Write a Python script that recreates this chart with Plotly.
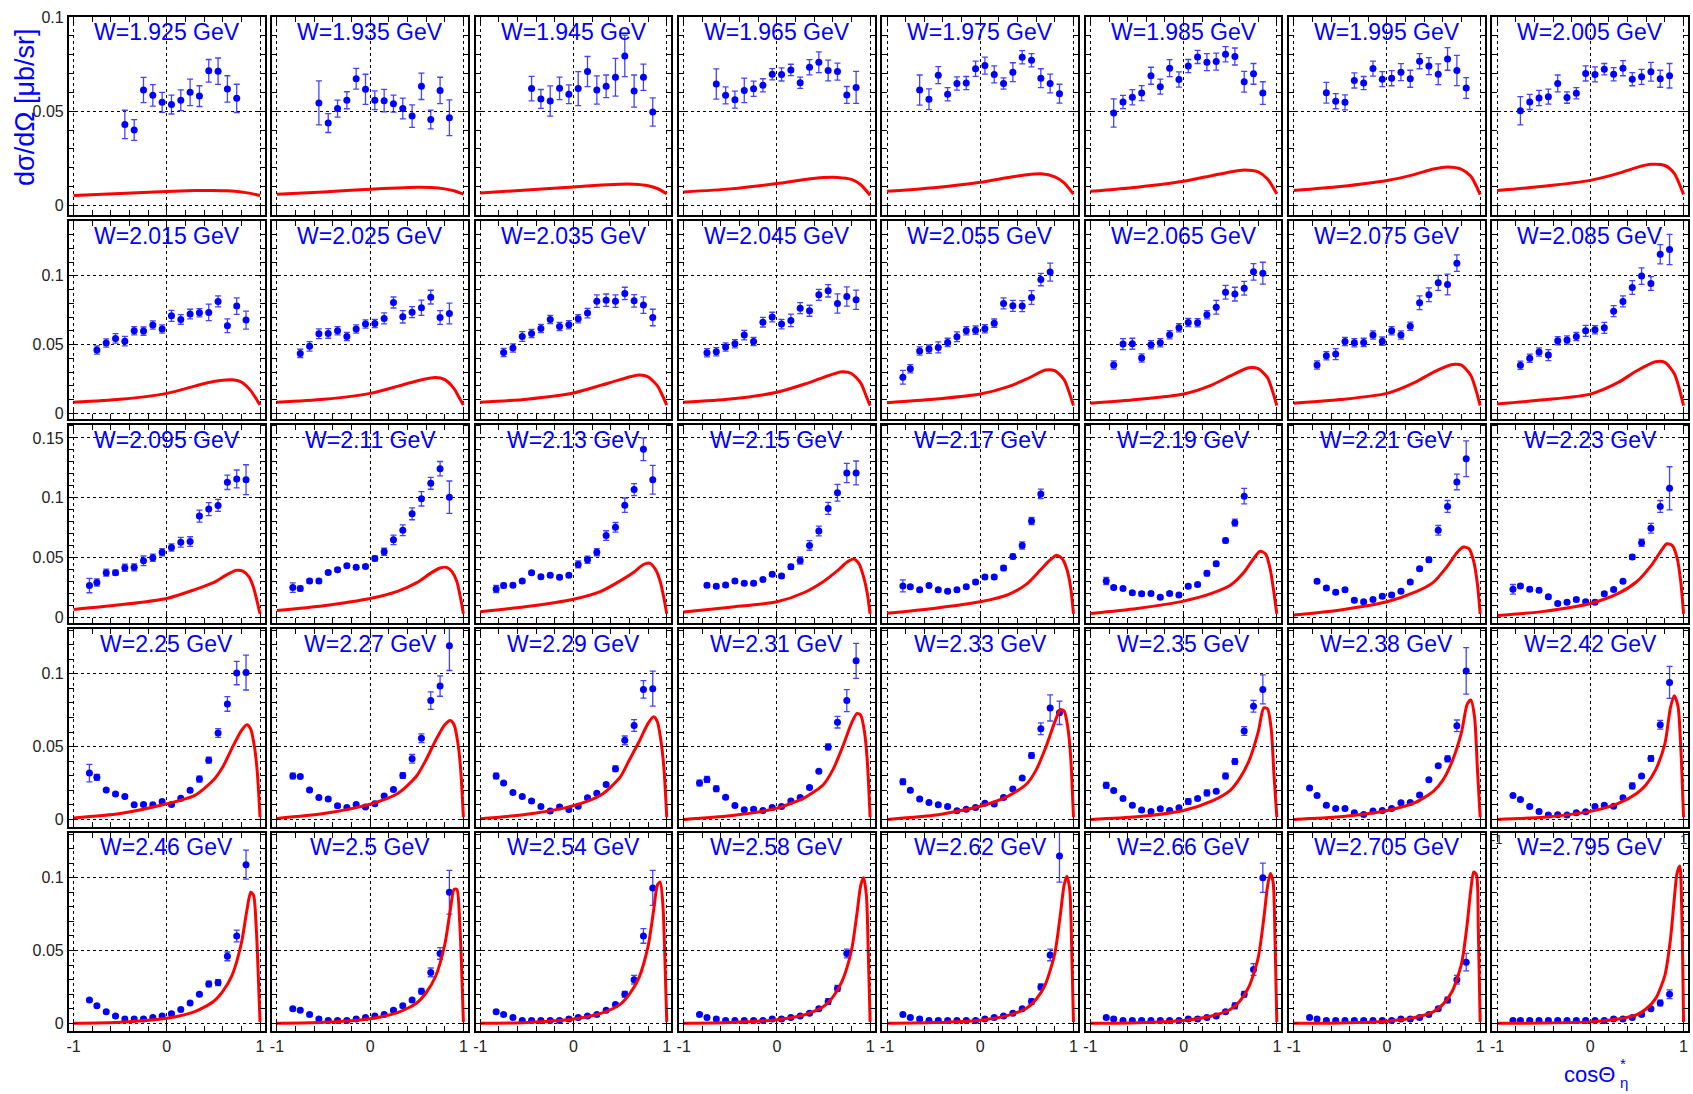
import plotly.graph_objects as go

FIG_W, FIG_H = 1693, 1094
N_COLS = 8

W_LABELS = ["1.925", "1.935", "1.945", "1.965", "1.975", "1.985", "1.995", "2.005",
            "2.015", "2.025", "2.035", "2.045", "2.055", "2.065", "2.075", "2.085",
            "2.095", "2.11", "2.13", "2.15", "2.17", "2.19", "2.21", "2.23",
            "2.25", "2.27", "2.29", "2.31", "2.33", "2.35", "2.38", "2.42",
            "2.46", "2.5", "2.54", "2.58", "2.62", "2.66", "2.705", "2.795"]

# cos(theta*) bin centres used by the measurements
COS_A = [-0.45, -0.35, -0.25, -0.15, -0.05, 0.05, 0.15, 0.25, 0.35, 0.45, 0.55, 0.65, 0.75]
COS_B = [-0.55, -0.45, -0.35, -0.25, -0.15, -0.05, 0.05, 0.15, 0.25, 0.35, 0.45, 0.55, 0.65, 0.75, 0.85]
COS_C = [-0.45, -0.35, -0.25, -0.15, -0.05, 0.05, 0.15, 0.25, 0.35, 0.45, 0.55, 0.65, 0.75, 0.85]
COS_D = [-0.65, -0.55, -0.45, -0.35, -0.25, -0.15, -0.05, 0.05, 0.15, 0.25, 0.35, 0.45, 0.55, 0.65, 0.75, 0.85]
COS_E = [-0.75, -0.65, -0.55, -0.45, -0.35, -0.25, -0.15, -0.05, 0.05, 0.15, 0.25, 0.35, 0.45, 0.55, 0.65, 0.75, 0.85]
COS_F = [-0.83, -0.75, -0.65, -0.55, -0.45, -0.35, -0.25, -0.15, -0.05, 0.05, 0.15, 0.25, 0.35, 0.45, 0.55, 0.65, 0.75]
COS_G = [-0.75, -0.65, -0.55, -0.45, -0.35, -0.25, -0.15, -0.05, 0.05, 0.15, 0.25, 0.35, 0.45, 0.55, 0.65, 0.75]
COS_H = [-0.83, -0.75, -0.65, -0.55, -0.45, -0.35, -0.25, -0.15, -0.05, 0.05, 0.15, 0.25, 0.35, 0.45, 0.55, 0.65, 0.75, 0.85]
COS_I = [-0.83, -0.75, -0.65, -0.55, -0.45, -0.35, -0.25, -0.15, -0.05, 0.05, 0.15, 0.25, 0.35, 0.45, 0.55, 0.65]

COS_BINS = [COS_A, COS_B, COS_C, COS_D, COS_D, COS_E, COS_D, COS_E,
            COS_E, COS_E, COS_E, COS_E, COS_F, COS_E, COS_G, COS_E,
            COS_H, COS_H, COS_H, COS_E, COS_I, COS_I, COS_E, COS_H,
            COS_H, COS_H, COS_H, COS_H, COS_H, COS_H, COS_H, COS_H,
            COS_H, COS_H, COS_H, COS_F, COS_H, COS_H, COS_H, COS_H]

# measured dsigma/dOmega [mub/sr]
DSDO = [
    [0.043, 0.040, 0.0612, 0.0584, 0.0547, 0.0535, 0.0558, 0.060, 0.058, 0.0714, 0.0712, 0.0618, 0.0568],
    [0.0544, 0.0437, 0.0514, 0.0558, 0.0672, 0.0616, 0.0558, 0.0556, 0.054, 0.0514, 0.0474, 0.0632, 0.0456, 0.061, 0.0465],
    [0.062, 0.0565, 0.0554, 0.0621, 0.059, 0.062, 0.071, 0.0612, 0.0632, 0.068, 0.0793, 0.0607, 0.068, 0.0496],
    [0.0644, 0.0584, 0.0561, 0.061, 0.0619, 0.0637, 0.0696, 0.0695, 0.0719, 0.0651, 0.0733, 0.076, 0.0716, 0.071, 0.0586, 0.0626],
    [0.0612, 0.0563, 0.0691, 0.059, 0.0647, 0.0649, 0.0725, 0.0742, 0.0695, 0.0647, 0.0707, 0.0786, 0.077, 0.0675, 0.0647, 0.0593],
    [0.049, 0.0549, 0.0574, 0.0596, 0.0688, 0.063, 0.0728, 0.0668, 0.0739, 0.0788, 0.076, 0.0763, 0.0802, 0.079, 0.0656, 0.0698, 0.0596],
    [0.0598, 0.0553, 0.0547, 0.0663, 0.0649, 0.0726, 0.067, 0.0675, 0.0707, 0.0672, 0.0765, 0.0739, 0.0696, 0.0777, 0.0716, 0.0623],
    [0.0502, 0.0549, 0.057, 0.0577, 0.0647, 0.0572, 0.0595, 0.07, 0.0695, 0.0723, 0.0696, 0.0728, 0.067, 0.0682, 0.0709, 0.0672, 0.0688],
    [0.046, 0.0511, 0.0545, 0.0525, 0.06, 0.0598, 0.0642, 0.0613, 0.0709, 0.0683, 0.0722, 0.0731, 0.0734, 0.0814, 0.0637, 0.078, 0.0678],
    [0.0436, 0.0487, 0.0579, 0.0581, 0.06, 0.0559, 0.0613, 0.0649, 0.0654, 0.069, 0.0806, 0.0702, 0.0736, 0.0768, 0.0845, 0.0697, 0.0726],
    [0.0443, 0.0475, 0.0559, 0.0581, 0.0617, 0.0683, 0.0632, 0.0644, 0.0688, 0.0729, 0.0816, 0.0823, 0.0816, 0.0872, 0.0818, 0.0787, 0.0697],
    [0.0441, 0.0448, 0.0482, 0.0506, 0.0569, 0.0523, 0.0663, 0.070, 0.0649, 0.0676, 0.0765, 0.0746, 0.0862, 0.0891, 0.0799, 0.085, 0.0826],
    [0.0262, 0.0324, 0.0453, 0.0467, 0.0479, 0.0516, 0.0557, 0.060, 0.0605, 0.0615, 0.0656, 0.0799, 0.0782, 0.078, 0.0843, 0.0973, 0.1027],
    [0.0351, 0.0504, 0.0506, 0.0402, 0.0499, 0.0513, 0.0571, 0.0622, 0.0661, 0.0659, 0.0717, 0.0772, 0.0881, 0.0867, 0.091, 0.1029, 0.1019],
    [0.0351, 0.0419, 0.0431, 0.0523, 0.0513, 0.0516, 0.0569, 0.0525, 0.060, 0.0569, 0.0634, 0.0804, 0.0862, 0.0949, 0.0937, 0.1092],
    [0.0349, 0.040, 0.0446, 0.0424, 0.0528, 0.0533, 0.0559, 0.060, 0.0608, 0.0622, 0.0743, 0.0814, 0.0915, 0.0998, 0.0944, 0.1157, 0.1191],
    [0.0266, 0.0291, 0.0374, 0.0374, 0.0415, 0.0418, 0.0473, 0.0498, 0.0545, 0.0584, 0.0628, 0.0634, 0.0847, 0.0905, 0.0936, 0.1129, 0.1157, 0.1151],
    [0.0249, 0.0241, 0.0304, 0.0304, 0.0376, 0.0399, 0.0432, 0.0418, 0.0426, 0.0493, 0.0548, 0.0648, 0.0728, 0.0866, 0.0991, 0.1121, 0.1243, 0.1005],
    [0.0238, 0.0266, 0.0268, 0.0304, 0.0374, 0.034, 0.0352, 0.0335, 0.0352, 0.0443, 0.0482, 0.0545, 0.0684, 0.0753, 0.0938, 0.1068, 0.1406, 0.1151],
    [0.0268, 0.026, 0.0271, 0.0304, 0.0285, 0.0285, 0.0316, 0.036, 0.0346, 0.0423, 0.0476, 0.0601, 0.0722, 0.0911, 0.1041, 0.1207, 0.1207],
    [0.0263, 0.0255, 0.023, 0.0266, 0.023, 0.0219, 0.023, 0.0257, 0.0296, 0.0338, 0.0338, 0.0412, 0.0509, 0.0601, 0.0805, 0.1032],
    [0.0304, 0.0249, 0.0241, 0.0205, 0.0197, 0.0199, 0.0169, 0.0199, 0.0188, 0.026, 0.0274, 0.0368, 0.0448, 0.0642, 0.0792, 0.1013],
    [0.0302, 0.0246, 0.021, 0.023, 0.0144, 0.013, 0.0149, 0.0177, 0.0188, 0.0219, 0.0296, 0.0407, 0.0482, 0.0728, 0.0927, 0.1132, 0.1326],
    [0.0235, 0.0263, 0.0235, 0.0227, 0.0172, 0.0116, 0.0127, 0.0149, 0.013, 0.0127, 0.0197, 0.0232, 0.0302, 0.0504, 0.0623, 0.0745, 0.0927, 0.1079],
    [0.0318, 0.0289, 0.0202, 0.0175, 0.0157, 0.010, 0.0102, 0.010, 0.0123, 0.0102, 0.0145, 0.020, 0.0277, 0.0407, 0.0593, 0.0793, 0.1005, 0.1009],
    [0.0298, 0.0295, 0.0202, 0.015, 0.0141, 0.0093, 0.0082, 0.0102, 0.0086, 0.0107, 0.0161, 0.0205, 0.0302, 0.0416, 0.0557, 0.0816, 0.0916, 0.1193],
    [0.0298, 0.025, 0.0184, 0.0157, 0.0127, 0.0089, 0.0057, 0.0086, 0.0068, 0.0091, 0.0148, 0.018, 0.0239, 0.0348, 0.0543, 0.0645, 0.0893, 0.0898],
    [0.025, 0.0275, 0.0211, 0.0152, 0.0095, 0.0066, 0.007, 0.0061, 0.0082, 0.0089, 0.0127, 0.015, 0.022, 0.033, 0.0498, 0.0668, 0.0816, 0.1089],
    [0.0259, 0.020, 0.0141, 0.0116, 0.010, 0.0089, 0.0059, 0.007, 0.0082, 0.0111, 0.0105, 0.015, 0.0209, 0.0284, 0.0439, 0.0623, 0.0766, 0.0732],
    [0.0234, 0.0198, 0.0143, 0.0098, 0.0064, 0.0055, 0.0073, 0.0061, 0.008, 0.0123, 0.0143, 0.0182, 0.0193, 0.0298, 0.0398, 0.0607, 0.0777, 0.0893],
    [0.0216, 0.0164, 0.0098, 0.0075, 0.0075, 0.0045, 0.0034, 0.0057, 0.0061, 0.0075, 0.0114, 0.0116, 0.0168, 0.0273, 0.0368, 0.0416, 0.0643, 0.102],
    [0.0164, 0.0136, 0.0089, 0.0055, 0.003, 0.0032, 0.003, 0.0045, 0.0052, 0.0089, 0.0098, 0.0091, 0.0148, 0.023, 0.0298, 0.0418, 0.065, 0.0941],
    [0.016, 0.012, 0.008, 0.005, 0.003, 0.003, 0.003, 0.004, 0.005, 0.0066, 0.0095, 0.014, 0.020, 0.027, 0.028, 0.046, 0.060, 0.109],
    [0.010, 0.009, 0.006, 0.003, 0.002, 0.002, 0.002, 0.003, 0.004, 0.005, 0.006, 0.009, 0.012, 0.016, 0.022, 0.035, 0.048, 0.090],
    [0.008, 0.006, 0.004, 0.002, 0.002, 0.002, 0.002, 0.002, 0.003, 0.004, 0.005, 0.006, 0.009, 0.013, 0.020, 0.030, 0.060, 0.093],
    [0.006, 0.004, 0.003, 0.002, 0.002, 0.002, 0.002, 0.002, 0.003, 0.003, 0.004, 0.005, 0.007, 0.010, 0.015, 0.024, 0.048],
    [0.006, 0.004, 0.003, 0.002, 0.002, 0.002, 0.002, 0.002, 0.002, 0.003, 0.004, 0.005, 0.007, 0.010, 0.015, 0.025, 0.047, 0.115],
    [0.004, 0.003, 0.002, 0.002, 0.002, 0.002, 0.002, 0.002, 0.002, 0.003, 0.003, 0.004, 0.005, 0.008, 0.012, 0.020, 0.037, 0.100],
    [0.004, 0.003, 0.002, 0.002, 0.002, 0.002, 0.002, 0.002, 0.002, 0.002, 0.003, 0.003, 0.004, 0.006, 0.010, 0.016, 0.030, 0.042],
    [0.002, 0.002, 0.002, 0.002, 0.002, 0.002, 0.002, 0.002, 0.002, 0.002, 0.002, 0.003, 0.003, 0.004, 0.006, 0.010, 0.014, 0.020],
]

DSDO_ERR = [
    [0.0075, 0.0055, 0.0067, 0.0057, 0.0053, 0.005, 0.0055, 0.007, 0.0055, 0.006, 0.007, 0.007, 0.0075],
    [0.0117, 0.005, 0.0045, 0.0045, 0.0055, 0.008, 0.005, 0.006, 0.0045, 0.0055, 0.006, 0.007, 0.005, 0.007, 0.0095],
    [0.0065, 0.005, 0.008, 0.006, 0.005, 0.009, 0.008, 0.0075, 0.006, 0.010, 0.011, 0.0085, 0.007, 0.0075],
    [0.008, 0.0045, 0.0045, 0.0065, 0.004, 0.0035, 0.003, 0.0035, 0.003, 0.003, 0.004, 0.0055, 0.0055, 0.0045, 0.0045, 0.0085],
    [0.008, 0.0055, 0.0045, 0.0035, 0.0035, 0.0035, 0.004, 0.0045, 0.0045, 0.003, 0.005, 0.0035, 0.0035, 0.005, 0.005, 0.005],
    [0.0075, 0.0035, 0.004, 0.004, 0.0045, 0.004, 0.0045, 0.004, 0.0035, 0.0035, 0.0045, 0.0045, 0.004, 0.0045, 0.0055, 0.0055, 0.006],
    [0.0055, 0.004, 0.004, 0.004, 0.0035, 0.004, 0.004, 0.004, 0.0045, 0.0045, 0.004, 0.0045, 0.0055, 0.006, 0.008, 0.0055],
    [0.0075, 0.004, 0.004, 0.004, 0.0045, 0.003, 0.003, 0.004, 0.004, 0.003, 0.0035, 0.004, 0.0035, 0.004, 0.005, 0.0045, 0.0065],
    [0.003, 0.003, 0.0035, 0.0035, 0.003, 0.003, 0.003, 0.003, 0.004, 0.0035, 0.0035, 0.003, 0.006, 0.004, 0.005, 0.006, 0.0065],
    [0.003, 0.0035, 0.0035, 0.0035, 0.003, 0.003, 0.003, 0.003, 0.003, 0.004, 0.004, 0.0045, 0.004, 0.0055, 0.005, 0.005, 0.0075],
    [0.003, 0.003, 0.0035, 0.003, 0.003, 0.003, 0.003, 0.003, 0.003, 0.0035, 0.0045, 0.0045, 0.0045, 0.0045, 0.0045, 0.006, 0.006],
    [0.003, 0.003, 0.003, 0.003, 0.0035, 0.003, 0.0035, 0.0035, 0.0035, 0.0045, 0.004, 0.004, 0.004, 0.0045, 0.007, 0.007, 0.007],
    [0.005, 0.003, 0.003, 0.003, 0.004, 0.003, 0.0035, 0.003, 0.003, 0.003, 0.003, 0.004, 0.004, 0.004, 0.005, 0.0045, 0.0065],
    [0.003, 0.004, 0.004, 0.003, 0.003, 0.003, 0.003, 0.003, 0.003, 0.003, 0.003, 0.005, 0.005, 0.005, 0.005, 0.006, 0.008],
    [0.003, 0.003, 0.004, 0.003, 0.003, 0.003, 0.003, 0.003, 0.003, 0.003, 0.003, 0.005, 0.005, 0.0055, 0.0075, 0.006],
    [0.003, 0.003, 0.003, 0.004, 0.003, 0.003, 0.003, 0.004, 0.003, 0.004, 0.004, 0.004, 0.005, 0.006, 0.005, 0.007, 0.011],
    [0.006, 0.003, 0.003, 0.002, 0.003, 0.003, 0.004, 0.003, 0.003, 0.003, 0.004, 0.004, 0.005, 0.0055, 0.005, 0.006, 0.0075, 0.0125],
    [0.004, 0.002, 0.0015, 0.0015, 0.0015, 0.0015, 0.0015, 0.0015, 0.0015, 0.002, 0.003, 0.004, 0.0045, 0.005, 0.006, 0.005, 0.006, 0.0135],
    [0.003, 0.002, 0.0015, 0.0015, 0.0015, 0.0015, 0.0015, 0.0015, 0.0015, 0.003, 0.003, 0.003, 0.004, 0.004, 0.006, 0.005, 0.0095, 0.012],
    [0.0015, 0.0015, 0.0015, 0.0015, 0.0015, 0.0015, 0.0015, 0.0015, 0.0015, 0.002, 0.003, 0.004, 0.004, 0.005, 0.007, 0.008, 0.010],
    [0.005, 0.0015, 0.0015, 0.0015, 0.0015, 0.0015, 0.0015, 0.0015, 0.0015, 0.0015, 0.0015, 0.002, 0.002, 0.003, 0.003, 0.004],
    [0.003, 0.0015, 0.0015, 0.0015, 0.0015, 0.0015, 0.0015, 0.0015, 0.0015, 0.0015, 0.0015, 0.002, 0.002, 0.002, 0.003, 0.0065],
    [0.0015, 0.0015, 0.0015, 0.0015, 0.0015, 0.0015, 0.0015, 0.0015, 0.0015, 0.0015, 0.0015, 0.0015, 0.002, 0.004, 0.005, 0.0065, 0.015],
    [0.004, 0.0015, 0.0015, 0.0015, 0.0015, 0.0015, 0.0015, 0.0015, 0.0015, 0.0015, 0.0015, 0.0015, 0.0015, 0.002, 0.003, 0.004, 0.005, 0.018],
    [0.006, 0.002, 0.001, 0.001, 0.001, 0.001, 0.001, 0.001, 0.001, 0.001, 0.001, 0.001, 0.002, 0.002, 0.003, 0.005, 0.008, 0.012],
    [0.002, 0.001, 0.001, 0.001, 0.001, 0.001, 0.001, 0.001, 0.001, 0.001, 0.001, 0.001, 0.002, 0.003, 0.003, 0.006, 0.007, 0.017],
    [0.002, 0.001, 0.001, 0.001, 0.001, 0.001, 0.001, 0.001, 0.001, 0.001, 0.001, 0.001, 0.001, 0.002, 0.003, 0.004, 0.006, 0.012],
    [0.002, 0.002, 0.002, 0.001, 0.001, 0.001, 0.001, 0.001, 0.001, 0.001, 0.001, 0.001, 0.001, 0.001, 0.002, 0.004, 0.0075, 0.012],
    [0.002, 0.001, 0.001, 0.001, 0.001, 0.001, 0.001, 0.001, 0.001, 0.001, 0.001, 0.001, 0.001, 0.001, 0.002, 0.004, 0.009, 0.008],
    [0.002, 0.001, 0.001, 0.001, 0.001, 0.001, 0.001, 0.001, 0.001, 0.002, 0.001, 0.002, 0.001, 0.002, 0.002, 0.003, 0.004, 0.010],
    [0.001, 0.001, 0.001, 0.001, 0.001, 0.001, 0.001, 0.001, 0.001, 0.001, 0.001, 0.001, 0.001, 0.001, 0.001, 0.002, 0.004, 0.016],
    [0.001, 0.001, 0.001, 0.001, 0.001, 0.001, 0.001, 0.001, 0.001, 0.001, 0.001, 0.001, 0.001, 0.002, 0.001, 0.002, 0.003, 0.011],
    [0.001, 0.001, 0.001, 0.001, 0.001, 0.001, 0.001, 0.001, 0.001, 0.001, 0.001, 0.001, 0.001, 0.002, 0.002, 0.003, 0.004, 0.010],
    [0.001, 0.001, 0.001, 0.001, 0.001, 0.001, 0.001, 0.001, 0.001, 0.001, 0.001, 0.001, 0.001, 0.001, 0.002, 0.003, 0.004, 0.015],
    [0.001, 0.001, 0.001, 0.001, 0.001, 0.001, 0.001, 0.001, 0.001, 0.001, 0.001, 0.001, 0.001, 0.001, 0.002, 0.003, 0.005, 0.012],
    [0.001, 0.001, 0.001, 0.001, 0.001, 0.001, 0.001, 0.001, 0.001, 0.001, 0.001, 0.001, 0.001, 0.001, 0.002, 0.002, 0.003],
    [0.001, 0.001, 0.001, 0.001, 0.001, 0.001, 0.001, 0.001, 0.001, 0.001, 0.001, 0.001, 0.001, 0.001, 0.002, 0.002, 0.004, 0.018],
    [0.001, 0.001, 0.001, 0.001, 0.001, 0.001, 0.001, 0.001, 0.001, 0.001, 0.001, 0.001, 0.001, 0.001, 0.002, 0.002, 0.004, 0.010],
    [0.001, 0.001, 0.001, 0.001, 0.001, 0.001, 0.001, 0.001, 0.001, 0.001, 0.001, 0.001, 0.001, 0.001, 0.001, 0.002, 0.003, 0.006],
    [0.001, 0.001, 0.001, 0.001, 0.001, 0.001, 0.001, 0.001, 0.001, 0.001, 0.001, 0.001, 0.001, 0.001, 0.001, 0.001, 0.002, 0.003],
]

# model curve: cos(theta*) nodes per row and predicted cross sections per panel
MODEL_COS_ROW = [
    [-1.0, -0.5, 0.0, 0.3, 0.5, 0.65, 0.8, 0.9, 1.0],
    [-1.0, -0.5, 0.0, 0.3, 0.5, 0.7, 0.8, 0.9, 0.95, 1.0],
    [-1.0, -0.5, 0.0, 0.3, 0.5, 0.65, 0.75, 0.82, 0.88, 0.93, 0.97, 1.0],
    [-1.0, -0.5, 0.0, 0.3, 0.5, 0.6, 0.7, 0.8, 0.86, 0.9, 0.94, 0.97, 1.0],
    [-1.0, -0.5, 0.0, 0.3, 0.5, 0.6, 0.7, 0.8, 0.86, 0.9, 0.93, 0.96, 0.98, 1.0],
]

MODEL_DSDO = [
    [0.0053, 0.0063, 0.0074, 0.0079, 0.0080, 0.0078, 0.0072, 0.0064, 0.0053],
    [0.0060, 0.0072, 0.0086, 0.0093, 0.0096, 0.0095, 0.0088, 0.0078, 0.0060],
    [0.0066, 0.0082, 0.0098, 0.0108, 0.0113, 0.0113, 0.0105, 0.0090, 0.0062],
    [0.0072, 0.0088, 0.0116, 0.0138, 0.0148, 0.0149, 0.0138, 0.0110, 0.0054],
    [0.0075, 0.0094, 0.0123, 0.0148, 0.0163, 0.0168, 0.0152, 0.0120, 0.0060],
    [0.0075, 0.0097, 0.0128, 0.0158, 0.0178, 0.0188, 0.0178, 0.0140, 0.0062],
    [0.0079, 0.0100, 0.0132, 0.0165, 0.0193, 0.0204, 0.0192, 0.0155, 0.0058],
    [0.0079, 0.0102, 0.0133, 0.0170, 0.0202, 0.0218, 0.0212, 0.0170, 0.0058],
    [0.0080, 0.0102, 0.0145, 0.0198, 0.0232, 0.0244, 0.0228, 0.0165, 0.0115, 0.0060],
    [0.0080, 0.0102, 0.0145, 0.0198, 0.0235, 0.0260, 0.0245, 0.0180, 0.0120, 0.0060],
    [0.0080, 0.0103, 0.0148, 0.0205, 0.0245, 0.0278, 0.0265, 0.0200, 0.0135, 0.0060],
    [0.0080, 0.0104, 0.0153, 0.0213, 0.0262, 0.0302, 0.0290, 0.0220, 0.0140, 0.0056],
    [0.0077, 0.0102, 0.0140, 0.0194, 0.0250, 0.0315, 0.0310, 0.0245, 0.0160, 0.0056],
    [0.0073, 0.0100, 0.0140, 0.0205, 0.0272, 0.0332, 0.0325, 0.0260, 0.0170, 0.0056],
    [0.0073, 0.0100, 0.0145, 0.0225, 0.0300, 0.0355, 0.0350, 0.0275, 0.0180, 0.0056],
    [0.0068, 0.0098, 0.0140, 0.0225, 0.0310, 0.0375, 0.0370, 0.0290, 0.0190, 0.0056],
    [0.0066, 0.0105, 0.0158, 0.0232, 0.0290, 0.0360, 0.0393, 0.0385, 0.0340, 0.0250, 0.0130, 0.0030],
    [0.0058, 0.0098, 0.0158, 0.0220, 0.0290, 0.0370, 0.0413, 0.0418, 0.0380, 0.0300, 0.0160, 0.0030],
    [0.0047, 0.0090, 0.0152, 0.0220, 0.0305, 0.0380, 0.0442, 0.0452, 0.0400, 0.0300, 0.0160, 0.0030],
    [0.0045, 0.0085, 0.0130, 0.0210, 0.0300, 0.0390, 0.0460, 0.0488, 0.0450, 0.0340, 0.0200, 0.0030],
    [0.0035, 0.0075, 0.0130, 0.0190, 0.0280, 0.0400, 0.0480, 0.0520, 0.0490, 0.0400, 0.0250, 0.0030],
    [0.0033, 0.0075, 0.0136, 0.0200, 0.0268, 0.0380, 0.0490, 0.0553, 0.0530, 0.0400, 0.0200, 0.0030],
    [0.0019, 0.0062, 0.0130, 0.0210, 0.0295, 0.0430, 0.0540, 0.0588, 0.0575, 0.0470, 0.0280, 0.0030],
    [0.0015, 0.0050, 0.0116, 0.0200, 0.0300, 0.0430, 0.0545, 0.0615, 0.0600, 0.0500, 0.0300, 0.0030],
    [0.0010, 0.0040, 0.0107, 0.0165, 0.0270, 0.0360, 0.0490, 0.0610, 0.0650, 0.0620, 0.0500, 0.0330, 0.0015],
    [0.0007, 0.0040, 0.0105, 0.0180, 0.0300, 0.0410, 0.0540, 0.0650, 0.0680, 0.0650, 0.0530, 0.0350, 0.0015],
    [0.0005, 0.0035, 0.0095, 0.0170, 0.0290, 0.0410, 0.0530, 0.0660, 0.0705, 0.0670, 0.0530, 0.0350, 0.0015],
    [0.0000, 0.0025, 0.0077, 0.0150, 0.0240, 0.0340, 0.0490, 0.0660, 0.0728, 0.0715, 0.0600, 0.0400, 0.0015],
    [0.0000, 0.0028, 0.0090, 0.0160, 0.0245, 0.0340, 0.0490, 0.0670, 0.0755, 0.0745, 0.0630, 0.0430, 0.0015],
    [0.0000, 0.0018, 0.0061, 0.0125, 0.0200, 0.0280, 0.0400, 0.0600, 0.0766, 0.0760, 0.0620, 0.0300, 0.0015],
    [0.0000, 0.0018, 0.0061, 0.0115, 0.0195, 0.0270, 0.0400, 0.0600, 0.0790, 0.0820, 0.0700, 0.0350, 0.0015],
    [0.0000, 0.0015, 0.0055, 0.0110, 0.0180, 0.0240, 0.0340, 0.0520, 0.0770, 0.0850, 0.0780, 0.0500, 0.0015],
    [0.0000, 0.0008, 0.0035, 0.0080, 0.0150, 0.0220, 0.0330, 0.0550, 0.0780, 0.0900, 0.0880, 0.0650, 0.0350, 0.0010],
    [0.0000, 0.0007, 0.0032, 0.0075, 0.0140, 0.0210, 0.0320, 0.0540, 0.0780, 0.0920, 0.0920, 0.0700, 0.0400, 0.0010],
    [0.0000, 0.0006, 0.0030, 0.0070, 0.0130, 0.0200, 0.0310, 0.0530, 0.0780, 0.0950, 0.0970, 0.0800, 0.0450, 0.0010],
    [0.0000, 0.0005, 0.0025, 0.0060, 0.0115, 0.0180, 0.0290, 0.0500, 0.0760, 0.0950, 0.1000, 0.0880, 0.0500, 0.0010],
    [0.0000, 0.0005, 0.0022, 0.0055, 0.0105, 0.0165, 0.0270, 0.0480, 0.0750, 0.0950, 0.1010, 0.0920, 0.0550, 0.0010],
    [0.0000, 0.0004, 0.0020, 0.0050, 0.0095, 0.0150, 0.0250, 0.0450, 0.0720, 0.0940, 0.1030, 0.0970, 0.0600, 0.0010],
    [0.0000, 0.0003, 0.0015, 0.0040, 0.0080, 0.0130, 0.0220, 0.0410, 0.0680, 0.0920, 0.1040, 0.1020, 0.0650, 0.0010],
    [0.0000, 0.0002, 0.0010, 0.0030, 0.0060, 0.0100, 0.0170, 0.0330, 0.0580, 0.0850, 0.1030, 0.1080, 0.0800, 0.0010],
]

Y_RANGES = [[-0.005, 0.1], [-0.004, 0.14], [-0.0045, 0.161], [-0.005, 0.131], [-0.005, 0.131]]

# panel geometry in pixels
LEFT0, COL_PITCH, PANEL_W = 67.0, 203.6, 196.0
TOP0, ROW_PITCH, PANEL_H = 9.0, 206.0, 200.0

BLUE = "#0000ff"
FONT = "Liberation Sans, Arial, Helvetica, sans-serif"

fig = go.Figure()
layout = {}
annotations = []

for i, w in enumerate(W_LABELS):
    r, c = divmod(i, N_COLS)
    sfx = "" if i == 0 else str(i + 1)
    x0 = LEFT0 + c * COL_PITCH
    y0 = TOP0 + r * ROW_PITCH
    xdom = [x0 / FIG_W, (x0 + PANEL_W) / FIG_W]
    ydom = [1 - (y0 + PANEL_H) / FIG_H, 1 - y0 / FIG_H]

    layout["xaxis" + sfx] = dict(
        domain=xdom, anchor="y" + sfx, range=[-1.05, 1.05],
        tickmode="array", tickvals=[-1, 0, 1], ticktext=["-1", "0", "1"],
        showticklabels=(r == 4), ticks="inside", ticklen=9, tickcolor="black", tickwidth=1,
        minor=dict(tickmode="linear", tick0=-1, dtick=0.2, ticks="inside", ticklen=5,
                   tickcolor="black", showgrid=False),
        showgrid=True, gridcolor="black", griddash="dot", gridwidth=1,
        showline=True, linecolor="black", linewidth=2, mirror="allticks",
        zeroline=False, tickfont=dict(family=FONT, size=16, color="#222"),
    )
    layout["yaxis" + sfx] = dict(
        domain=ydom, anchor="x" + sfx, range=Y_RANGES[r],
        tickmode="linear", tick0=0, dtick=0.05,
        showticklabels=(c == 0), ticks="inside", ticklen=9, tickcolor="black", tickwidth=1,
        minor=dict(tickmode="linear", tick0=0, dtick=0.01, ticks="inside", ticklen=5,
                   tickcolor="black", showgrid=False),
        showgrid=True, gridcolor="black", griddash="dot", gridwidth=1,
        showline=True, linecolor="black", linewidth=2, mirror="allticks",
        zeroline=False, tickfont=dict(family=FONT, size=16, color="#222"),
    )

    fig.add_trace(go.Scatter(
        x=COS_BINS[i], y=DSDO[i], mode="markers", xaxis="x" + sfx, yaxis="y" + sfx,
        marker=dict(color=BLUE, size=7),
        error_y=dict(type="data", array=DSDO_ERR[i], color="rgba(20,20,255,0.8)",
                     thickness=1.3, width=3),
        showlegend=False,
    ))
    fig.add_trace(go.Scatter(
        x=MODEL_COS_ROW[r], y=MODEL_DSDO[i], mode="lines", xaxis="x" + sfx, yaxis="y" + sfx,
        line=dict(color="#ff0000", width=3, shape="spline", smoothing=0.7),
        showlegend=False,
    ))

    annotations.append(dict(
        text="W=%s GeV" % w, xref="paper", yref="paper",
        x=(x0 + PANEL_W / 2) / FIG_W, y=1 - (y0 + 15) / FIG_H,
        xanchor="center", yanchor="middle", showarrow=False,
        font=dict(family=FONT, size=23, color=BLUE),
    ))

# stray top-edge cos labels on the last panel
last_x0 = LEFT0 + 7 * COL_PITCH
last_y0 = TOP0 + 4 * ROW_PITCH
for val, txt in ((-1, "-1"), (1, "1")):
    px = last_x0 + (val + 1.05) / 2.1 * PANEL_W
    annotations.append(dict(
        text=txt, xref="paper", yref="paper", x=px / FIG_W, y=1 - (last_y0 + 7) / FIG_H,
        xanchor="center", yanchor="middle", showarrow=False,
        font=dict(family=FONT, size=13, color="#222"),
    ))

# axis titles
annotations.append(dict(
    text="dσ/dΩ [μb/sr]", xref="paper", yref="paper", x=23 / FIG_W, y=1 - 100 / FIG_H,
    textangle=-90, xanchor="center", yanchor="middle", showarrow=False,
    font=dict(family=FONT, size=27, color=BLUE),
))
annotations.append(dict(
    text="cosΘ", xref="paper", yref="paper", x=1617 / FIG_W, y=1 - 1077 / FIG_H,
    xanchor="right", yanchor="middle", showarrow=False,
    font=dict(family=FONT, size=22, color=BLUE),
))
annotations.append(dict(
    text="*", xref="paper", yref="paper", x=1618 / FIG_W, y=1 - 1066 / FIG_H,
    xanchor="left", yanchor="middle", showarrow=False,
    font=dict(family=FONT, size=15, color=BLUE),
))
annotations.append(dict(
    text="η", xref="paper", yref="paper", x=1618 / FIG_W, y=1 - 1085 / FIG_H,
    xanchor="left", yanchor="middle", showarrow=False,
    font=dict(family=FONT, size=15, color=BLUE),
))

fig.update_layout(
    width=FIG_W, height=FIG_H, margin=dict(l=0, r=0, t=0, b=0),
    paper_bgcolor="white", plot_bgcolor="white",
    annotations=annotations, **layout,
)

fig.write_html("out.html")
